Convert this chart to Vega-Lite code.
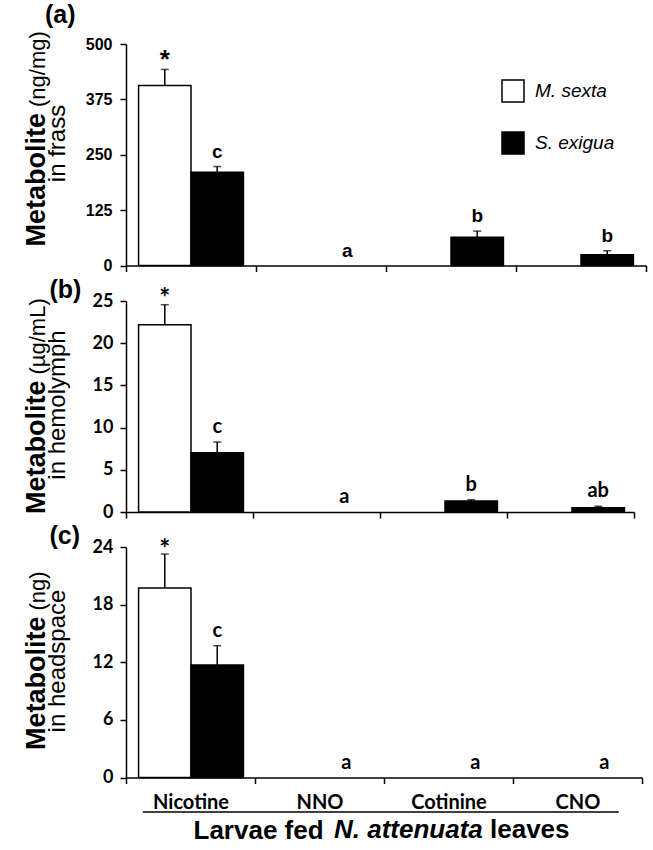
{
  "$schema": "https://vega.github.io/schema/vega-lite/v6.json",
  "background": "white",
  "padding": {"left": 22, "top": 2, "right": 5, "bottom": 5},
  "config": {
    "view": {"stroke": null},
    "font": "Liberation Sans",
    "axis": {"domainColor": "black", "domainWidth": 1.5, "tickColor": "black", "tickWidth": 1.5, "tickSize": 6, "labelColor": "black", "titleColor": "black", "grid": false},
    "title": {"color": "black"}
  },
  "datasets": {
    "frass": [
      {"compound": "Nicotine", "species": "M. sexta", "value": 406.5, "upper": 442.6, "label": "*"},
      {"compound": "Nicotine", "species": "S. exigua", "value": 210.6, "upper": 223.4, "label": "c"},
      {"compound": "NNO", "species": "S. exigua", "value": 0, "upper": 0, "label": "a"},
      {"compound": "Cotinine", "species": "S. exigua", "value": 63.5, "upper": 77.7, "label": "b"},
      {"compound": "CNO", "species": "S. exigua", "value": 24.3, "upper": 33.3, "label": "b"}
    ],
    "hemolymph": [
      {"compound": "Nicotine", "species": "M. sexta", "value": 22.2, "upper": 24.56, "label": "*"},
      {"compound": "Nicotine", "species": "S. exigua", "value": 7.03, "upper": 8.29, "label": "c"},
      {"compound": "NNO", "species": "S. exigua", "value": 0, "upper": 0, "label": "a"},
      {"compound": "Cotinine", "species": "S. exigua", "value": 1.3, "upper": 1.46, "label": "b"},
      {"compound": "CNO", "species": "S. exigua", "value": 0.51, "upper": 0.68, "label": "ab"}
    ],
    "headspace": [
      {"compound": "Nicotine", "species": "M. sexta", "value": 19.73, "upper": 23.27, "label": "*"},
      {"compound": "Nicotine", "species": "S. exigua", "value": 11.71, "upper": 13.72, "label": "c"},
      {"compound": "NNO", "species": "S. exigua", "value": 0, "upper": 0, "label": "a"},
      {"compound": "Cotinine", "species": "S. exigua", "value": 0, "upper": 0, "label": "a"},
      {"compound": "CNO", "species": "S. exigua", "value": 0, "upper": 0, "label": "a"}
    ]
  },
  "bounds": "flush",
  "spacing": 35,
  "resolve": {"scale": {"fill": "independent"}, "legend": {"fill": "independent"}},
  "title": {"text": "leaves", "orient": "bottom", "anchor": "start", "frame": "group", "dx": 364, "offset": -5.5, "fontSize": 26, "fontWeight": "bold", "baseline": "alphabetic"},
  "vconcat": [
    {
      "width": 520, "height": 221.5,
      "data": {"name": "frass"},
      "title": {"text": "(a)", "anchor": "start", "frame": "group", "dx": -81, "offset": -17, "fontSize": 25, "fontWeight": "bold", "baseline": "alphabetic"},
      "resolve": {"axis": {"x": "independent", "y": "independent"}},
      "layer": [
        {
          "transform": [{"filter": "datum.value > 0"}],
          "mark": {"type": "bar", "stroke": "black", "strokeWidth": 1.5},
          "encoding": {
            "x": {"field": "compound", "type": "nominal", "sort": ["Nicotine", "NNO", "Cotinine", "CNO"],
              "scale": {"domain": ["Nicotine", "NNO", "Cotinine", "CNO"], "paddingInner": 0, "paddingOuter": 0},
              "axis": {"orient": "bottom", "labels": false, "tickBand": "extent", "title": "(b)", "titleFontSize": 25, "titleFontWeight": "bold", "titleAngle": 0, "titleAlign": "left", "titleBaseline": "alphabetic", "titleX": -77, "titleY": 31.5}},
            "xOffset": {"field": "species", "scale": {"domain": ["M. sexta", "S. exigua"], "paddingInner": 0, "paddingOuter": 0.24}},
            "y": {"field": "value", "type": "quantitative", "scale": {"domain": [0, 500], "nice": false},
              "axis": {"orient": "left", "values": [0, 125, 250, 375, 500], "labelFontSize": 16, "labelFontWeight": "bold", "labelPadding": 8,
                "title": "in frass", "titleFontSize": 24, "titleFontWeight": "normal", "titleAngle": 270, "titleAlign": "center", "titleBaseline": "alphabetic", "titleX": -62, "titleY": 99}},
            "fill": {"field": "species", "type": "nominal", "scale": {"domain": ["M. sexta", "S. exigua"], "range": ["white", "black"]},
              "legend": {"orient": "none", "legendX": 375, "legendY": 35, "title": null, "padding": 0, "symbolType": "square", "symbolSize": 484, "symbolStrokeColor": "black", "symbolStrokeWidth": 1.5, "labelFontSize": 19, "labelFontStyle": "italic", "labelColor": "black", "labelOffset": 10, "rowPadding": 24}}
          }
        },
        {
          "transform": [{"filter": "datum.upper > datum.value"}],
          "mark": {"type": "rule", "strokeWidth": 1.5, "color": "black"},
          "encoding": {
            "x": {"field": "compound", "type": "nominal",
              "axis": {"orient": "top", "labels": false, "ticks": false, "domain": false, "title": "(ng/mg)", "titleFontSize": 22, "titleFontWeight": "normal", "titleAngle": 270, "titleAlign": "left", "titleBaseline": "alphabetic", "titleX": -82, "titleY": 62.5}},
            "xOffset": {"field": "species"},
            "y": {"field": "value", "type": "quantitative",
              "axis": {"orient": "right", "labels": false, "ticks": false, "domain": false, "title": "Metabolite", "titleFontSize": 27, "titleFontWeight": "bold", "titleAngle": 270, "titleAlign": "left", "titleBaseline": "alphabetic", "titleX": -602, "titleY": 202}},
            "y2": {"field": "upper"}
          }
        },
        {
          "transform": [{"filter": "datum.upper > datum.value"}],
          "mark": {"type": "tick", "orient": "horizontal", "size": 8, "thickness": 1.5, "color": "black"},
          "encoding": {
            "x": {"field": "compound", "type": "nominal", "axis": null},
            "xOffset": {"field": "species"},
            "y": {"field": "upper", "type": "quantitative", "axis": null}
          }
        },
        {
          "transform": [{"filter": "datum.label !== '*'"}],
          "mark": {"type": "text", "dy": -9, "baseline": "alphabetic", "align": "center", "fontSize": 19, "fontWeight": "bold", "color": "black"},
          "encoding": {
            "x": {"field": "compound", "type": "nominal", "axis": null},
            "xOffset": {"field": "species"},
            "y": {"field": "upper", "type": "quantitative", "axis": null},
            "text": {"field": "label"}
          }
        },
        {
          "transform": [{"filter": "datum.label === '*'"}],
          "mark": {"type": "text", "dy": -1, "baseline": "alphabetic", "align": "center", "fontSize": 26, "fontWeight": "bold", "color": "black"},
          "encoding": {
            "x": {"field": "compound", "type": "nominal", "axis": null},
            "xOffset": {"field": "species"},
            "y": {"field": "upper", "type": "quantitative", "axis": null},
            "text": {"field": "label"}
          }
        }
      ]
    },
    {
      "width": 508, "height": 211,
      "data": {"name": "hemolymph"},
      "resolve": {"axis": {"x": "independent", "y": "independent"}},
      "layer": [
        {
          "transform": [{"filter": "datum.value > 0"}],
          "mark": {"type": "bar", "stroke": "black", "strokeWidth": 1.5},
          "encoding": {
            "x": {"field": "compound", "type": "nominal", "sort": ["Nicotine", "NNO", "Cotinine", "CNO"],
              "scale": {"domain": ["Nicotine", "NNO", "Cotinine", "CNO"], "paddingInner": 0, "paddingOuter": 0},
              "axis": {"orient": "bottom", "labels": false, "tickBand": "extent", "title": "(c)", "titleFontSize": 25, "titleFontWeight": "bold", "titleAngle": 0, "titleAlign": "left", "titleBaseline": "alphabetic", "titleX": -77, "titleY": 31.5}},
            "xOffset": {"field": "species", "scale": {"domain": ["M. sexta", "S. exigua"], "paddingInner": 0, "paddingOuter": 0.24}},
            "y": {"field": "value", "type": "quantitative", "scale": {"domain": [0, 25], "nice": false},
              "axis": {"orient": "left", "values": [0, 5, 10, 15, 20, 25], "labelFont": "Lato", "labelFontSize": 18, "labelFontWeight": "bold", "labelPadding": 7,
                "title": "in hemolymph", "titleFontSize": 24, "titleFontWeight": "normal", "titleAngle": 270, "titleAlign": "center", "titleBaseline": "alphabetic", "titleX": -62, "titleY": 103.5}},
            "fill": {"field": "species", "type": "nominal", "scale": {"domain": ["M. sexta", "S. exigua"], "range": ["white", "black"]}, "legend": null}
          }
        },
        {
          "transform": [{"filter": "datum.upper > datum.value"}],
          "mark": {"type": "rule", "strokeWidth": 1.5, "color": "black"},
          "encoding": {
            "x": {"field": "compound", "type": "nominal",
              "axis": {"orient": "top", "labels": false, "ticks": false, "domain": false, "title": "(µg/mL)", "titleFontSize": 22, "titleFontWeight": "normal", "titleAngle": 270, "titleAlign": "left", "titleBaseline": "alphabetic", "titleX": -82, "titleY": 73}},
            "xOffset": {"field": "species"},
            "y": {"field": "value", "type": "quantitative",
              "axis": {"orient": "right", "labels": false, "ticks": false, "domain": false, "title": "Metabolite", "titleFontSize": 27, "titleFontWeight": "bold", "titleAngle": 270, "titleAlign": "left", "titleBaseline": "alphabetic", "titleX": -590, "titleY": 212.5}},
            "y2": {"field": "upper"}
          }
        },
        {
          "transform": [{"filter": "datum.upper > datum.value"}],
          "mark": {"type": "tick", "orient": "horizontal", "size": 8, "thickness": 1.5, "color": "black"},
          "encoding": {
            "x": {"field": "compound", "type": "nominal", "axis": null},
            "xOffset": {"field": "species"},
            "y": {"field": "upper", "type": "quantitative", "axis": null}
          }
        },
        {
          "transform": [{"filter": "datum.label !== '*'"}],
          "mark": {"type": "text", "dy": -9, "baseline": "alphabetic", "align": "center", "font": "Lato", "fontSize": 20, "fontWeight": "bold", "color": "black"},
          "encoding": {
            "x": {"field": "compound", "type": "nominal", "axis": null},
            "xOffset": {"field": "species"},
            "y": {"field": "upper", "type": "quantitative", "axis": null},
            "text": {"field": "label"}
          }
        },
        {
          "transform": [{"filter": "datum.label === '*'"}],
          "mark": {"type": "text", "dy": 2, "baseline": "alphabetic", "align": "center", "font": "Lato", "fontSize": 26, "fontWeight": "bold", "color": "black"},
          "encoding": {
            "x": {"field": "compound", "type": "nominal", "axis": null},
            "xOffset": {"field": "species"},
            "y": {"field": "upper", "type": "quantitative", "axis": null},
            "text": {"field": "label"}
          }
        }
      ]
    },
    {
      "width": 516, "height": 230.5,
      "data": {"name": "headspace"},
      "title": {"text": "N. attenuata", "orient": "bottom", "anchor": "start", "frame": "group", "dx": 208, "offset": -5.5, "fontSize": 26, "fontWeight": "bold", "fontStyle": "italic", "baseline": "alphabetic"},
      "resolve": {"axis": {"x": "independent", "y": "independent"}},
      "layer": [
        {
          "transform": [{"filter": "datum.value > 0"}],
          "mark": {"type": "bar", "stroke": "black", "strokeWidth": 1.5},
          "encoding": {
            "x": {"field": "compound", "type": "nominal", "sort": ["Nicotine", "NNO", "Cotinine", "CNO"],
              "scale": {"domain": ["Nicotine", "NNO", "Cotinine", "CNO"], "paddingInner": 0, "paddingOuter": 0},
              "axis": {"orient": "bottom", "tickBand": "extent", "labelAngle": 0, "labelFont": "Lato", "labelFontSize": 20, "labelFontWeight": "bold", "labelBaseline": "alphabetic", "labelPadding": 25,
                "title": "Larvae fed", "titleFontSize": 26, "titleFontWeight": "bold", "titleAngle": 0, "titleAlign": "left", "titleBaseline": "alphabetic", "titleX": 67, "titleY": 61}},
            "xOffset": {"field": "species", "scale": {"domain": ["M. sexta", "S. exigua"], "paddingInner": 0, "paddingOuter": 0.24}},
            "y": {"field": "value", "type": "quantitative", "scale": {"domain": [0, 24], "nice": false},
              "axis": {"orient": "left", "values": [0, 6, 12, 18, 24], "labelFont": "Lato", "labelFontSize": 18, "labelFontWeight": "bold", "labelPadding": 7,
                "title": "in headspace", "titleFontSize": 24, "titleFontWeight": "normal", "titleAngle": 270, "titleAlign": "center", "titleBaseline": "alphabetic", "titleX": -62, "titleY": 113.5}},
            "fill": {"field": "species", "type": "nominal", "scale": {"domain": ["M. sexta", "S. exigua"], "range": ["white", "black"]}, "legend": null}
          }
        },
        {
          "transform": [{"filter": "datum.upper > datum.value"}],
          "mark": {"type": "rule", "strokeWidth": 1.5, "color": "black"},
          "encoding": {
            "x": {"field": "compound", "type": "nominal",
              "axis": {"orient": "top", "labels": false, "ticks": false, "domain": false, "title": "(ng)", "titleFontSize": 22, "titleFontWeight": "normal", "titleAngle": 270, "titleAlign": "left", "titleBaseline": "alphabetic", "titleX": -82, "titleY": 63}},
            "xOffset": {"field": "species"},
            "y": {"field": "value", "type": "quantitative",
              "axis": {"orient": "right", "labels": false, "ticks": false, "domain": false, "title": "Metabolite", "titleFontSize": 27, "titleFontWeight": "bold", "titleAngle": 270, "titleAlign": "left", "titleBaseline": "alphabetic", "titleX": -598, "titleY": 202.5}},
            "y2": {"field": "upper"}
          }
        },
        {
          "transform": [{"filter": "datum.upper > datum.value"}],
          "mark": {"type": "tick", "orient": "horizontal", "size": 8, "thickness": 1.5, "color": "black"},
          "encoding": {
            "x": {"field": "compound", "type": "nominal", "axis": null},
            "xOffset": {"field": "species"},
            "y": {"field": "upper", "type": "quantitative", "axis": null}
          }
        },
        {
          "transform": [{"filter": "datum.label !== '*'"}],
          "mark": {"type": "text", "dy": -9, "baseline": "alphabetic", "align": "center", "font": "Lato", "fontSize": 20, "fontWeight": "bold", "color": "black"},
          "encoding": {
            "x": {"field": "compound", "type": "nominal", "axis": null},
            "xOffset": {"field": "species"},
            "y": {"field": "upper", "type": "quantitative", "axis": null},
            "text": {"field": "label"}
          }
        },
        {
          "transform": [{"filter": "datum.label === '*'"}],
          "mark": {"type": "text", "dy": 4, "baseline": "alphabetic", "align": "center", "font": "Lato", "fontSize": 26, "fontWeight": "bold", "color": "black"},
          "encoding": {
            "x": {"field": "compound", "type": "nominal", "axis": null},
            "xOffset": {"field": "species"},
            "y": {"field": "upper", "type": "quantitative", "axis": null},
            "text": {"field": "label"}
          }
        },
        {
          "data": {"values": [{}]},
          "mark": {"type": "rule", "strokeWidth": 1.5, "color": "black"},
          "encoding": {
            "x": {"datum": "Nicotine", "type": "nominal", "bandPosition": 0.13, "axis": null},
            "x2": {"datum": "CNO", "bandPosition": 0.82},
            "y": {"datum": -3.6, "type": "quantitative", "axis": null}
          }
        }
      ]
    }
  ]
}
